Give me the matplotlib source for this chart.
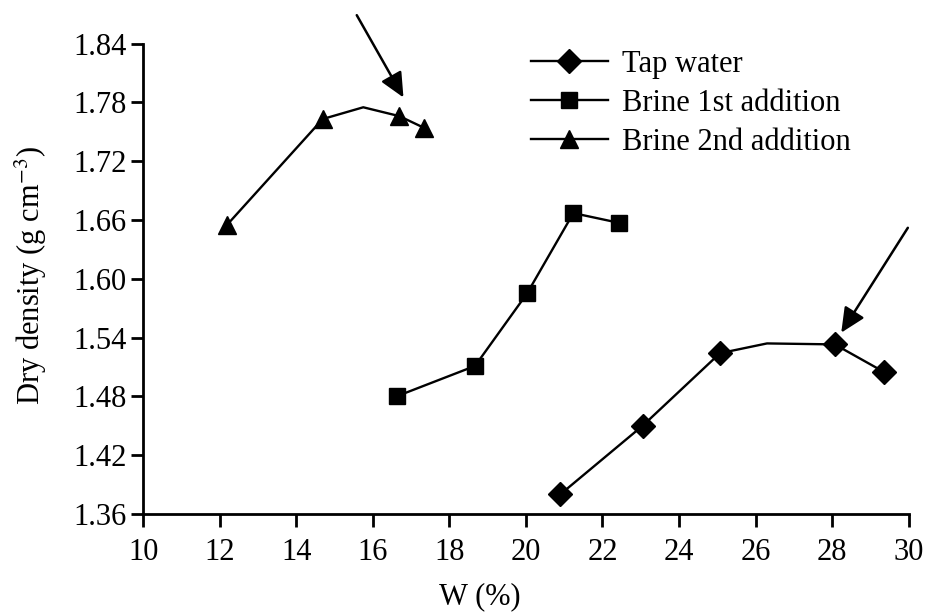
import matplotlib
matplotlib.use("Agg")
import matplotlib.pyplot as plt

plt.rcParams['font.family'] = ['Liberation Serif', 'DejaVu Serif']
plt.rcParams['mathtext.fontset'] = 'stix'

# Data
tap_w = [20.9, 23.05, 25.07, 26.3, 28.07, 29.35]
tap_d = [1.380, 1.450, 1.524, 1.534, 1.533, 1.505]
tap_marked = [True, True, True, False, True, True]

b1_w = [16.62, 18.67, 20.03, 21.24, 22.44]
b1_d = [1.480, 1.511, 1.585, 1.667, 1.657]

b2_w = [12.19, 14.69, 15.75, 16.69, 17.34]
b2_d = [1.655, 1.763, 1.775, 1.766, 1.754]
b2_marked = [True, True, False, True, True]

series_labels = ["Tap water", "Brine 1st addition", "Brine 2nd addition"]
x_ticks = [10, 12, 14, 16, 18, 20, 22, 24, 26, 28, 30]
y_ticks = [1.36, 1.42, 1.48, 1.54, 1.60, 1.66, 1.72, 1.78, 1.84]

# arrows: (tail_x, tail_y, head_x, head_y)
arrow1 = (15.58, 1.869, 16.80, 1.785)
arrow2 = (29.98, 1.652, 28.24, 1.545)

fig = plt.figure(figsize=(9.3, 6.14), dpi=100)
ax = fig.add_axes([0.154, 0.163, 0.823, 0.766])

fs = 22
lw = 1.7

def markevery(flags):
    return [i for i, f in enumerate(flags) if f]

ax.plot(tap_w, tap_d, color='black', lw=lw, marker='D', markersize=12,
        markevery=markevery(tap_marked), label=series_labels[0])
ax.plot(b1_w, b1_d, color='black', lw=lw, marker='s', markersize=12,
        label=series_labels[1])
ax.plot(b2_w, b2_d, color='black', lw=lw, marker='^', markersize=13,
        markevery=markevery(b2_marked), label=series_labels[2])

for (tx, ty, hx, hy) in (arrow1, arrow2):
    ax.annotate('', xy=(hx, hy), xytext=(tx, ty), xycoords='data',
                textcoords='data', annotation_clip=False,
                arrowprops=dict(arrowstyle='-|>,head_length=1.5,head_width=0.7',
                                color='black', lw=1.8, shrinkA=0, shrinkB=0))

ax.set_xlim(10, 30)
ax.set_ylim(1.36, 1.84)
ax.set_xticks(x_ticks)
ax.set_yticks(y_ticks)
ax.set_xticklabels([str(t) for t in x_ticks])
ax.set_yticklabels([f"{t:.2f}" for t in y_ticks])

for s in ['top', 'right']:
    ax.spines[s].set_visible(False)
for s in ['left', 'bottom']:
    ax.spines[s].set_linewidth(2.0)

ax.tick_params(axis='both', direction='out', length=9, width=2.0,
               labelsize=fs)
ax.tick_params(axis='x', pad=8)
ax.tick_params(axis='y', pad=3)

ax.set_xlabel("W (%)", fontsize=fs)
ax.xaxis.set_label_coords(0.44, -0.146)
ax.set_ylabel("Dry density (g cm$^{-3}$)", fontsize=fs)
ax.yaxis.set_label_coords(-0.123, 0.508)

leg = ax.legend(loc='upper left', bbox_to_anchor=(0.507, 0.987), frameon=False,
                fontsize=fs, handlelength=2.5, handletextpad=0.46,
                labelspacing=0.33, borderaxespad=0, borderpad=0)

fig.savefig("out.png", dpi=100)
